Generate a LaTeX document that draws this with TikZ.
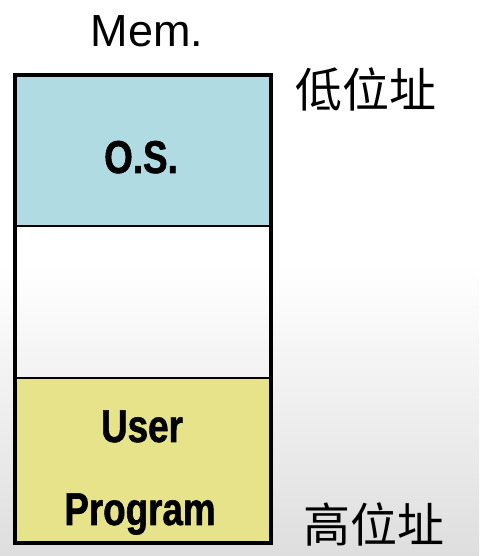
\documentclass[tikz,border=0pt]{standalone}
\usepackage{fontspec}
\setmainfont{Liberation Sans}
\newfontfamily\condbold{Liberation Sans Bold}[FakeStretch=0.8, FakeBold=1.2]
\newfontfamily\cjk{Noto Sans CJK TC}
\definecolor{osblue}{RGB}{176,219,227}
\definecolor{userfill}{RGB}{230,227,138}
\definecolor{floorgray}{RGB}{222,222,222}
\tikzset{
  cell/.style={rectangle, inner sep=0pt, minimum width=253.5pt, draw=black, line width=2pt},
  celltext/.style={font=\condbold\fontsize{46}{50}\selectfont, anchor=base, inner sep=0pt},
  addr/.style={font=\cjk\fontsize{47}{50}\selectfont, anchor=base, inner sep=0pt},
  frame/.style={draw=black, line width=4pt}
}
\begin{document}
\begin{tikzpicture}[x=1pt, y=1pt]
  % page and soft floor shading
  \fill[white] (0,0) rectangle (479,556);
  \shade[top color=white, bottom color=floorgray] (0,0) rectangle (479,291);
  \useasboundingbox (0,0) rectangle (479,556);

  % memory cells, top to bottom
  \node[cell, fill=osblue, minimum height=150.5pt] (os) at (142.75,404.75) {};
  \node[cell, minimum height=151.5pt] (free) at (142.75,253.75) {};
  \node[cell, fill=userfill, minimum height=164pt] (user) at (142.75,96) {};

  % outer frame of the memory
  \draw[frame] (os.north west) rectangle (user.south east);

  % cell labels
  \node[celltext] (ostext) at (141,383) {O.S.};
  \node[celltext] (usertext) at (142,114) {User};
  \node[celltext] (progtext) at (140,31) {Program};

  % title and address labels
  \node[font=\fontsize{45}{50}\selectfont, anchor=base, inner sep=0pt] (title) at (147,509) {Mem.};
  \node[addr] (low) at (366,448) {低位址};
  \node[addr] (high) at (374,13) {高位址};
\end{tikzpicture}
\end{document}
